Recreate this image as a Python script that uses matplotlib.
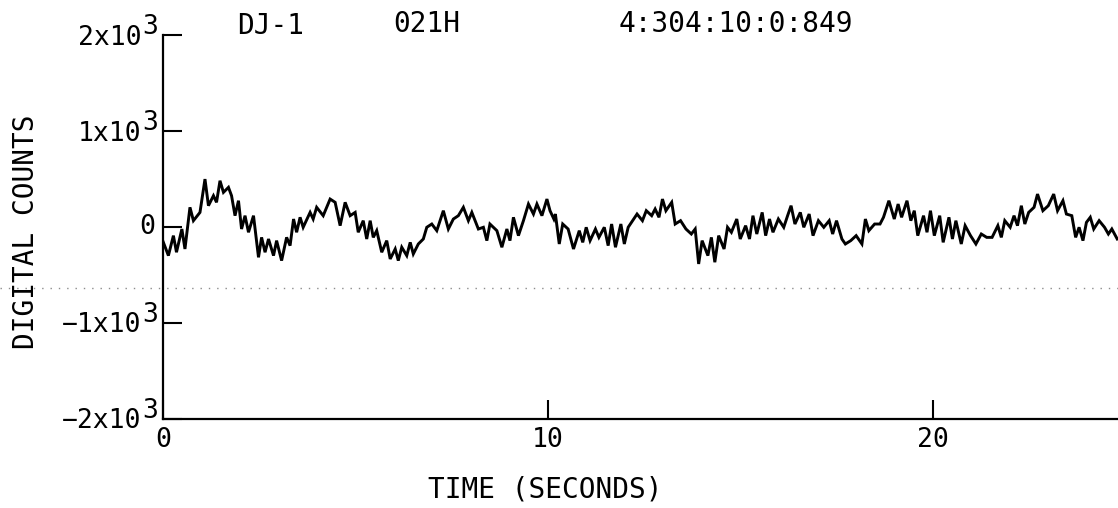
import matplotlib
matplotlib.use("Agg")
import matplotlib.pyplot as plt
from matplotlib.lines import Line2D

# Station header
station = "DJ-1"
channel = "021H"
timestamp = "4:304:10:0:849"

# Seismogram trace: time (s) and digital counts
time_s = [
    0.00, 0.14, 0.27, 0.35, 0.49, 0.57, 0.70, 0.79, 0.96, 1.09, 1.18, 1.31, 1.39, 1.48, 1.57,
    1.70, 1.78, 1.87, 1.96, 2.04, 2.13, 2.22, 2.35, 2.48, 2.56, 2.65, 2.74, 2.87, 2.95, 3.08,
    3.21, 3.30, 3.39, 3.47, 3.56, 3.64, 3.82, 3.90, 3.99, 4.16, 4.34, 4.47, 4.60, 4.73, 4.86,
    4.99, 5.07, 5.20, 5.29, 5.38, 5.46, 5.55, 5.68, 5.81, 5.90, 6.03, 6.11, 6.20, 6.33, 6.42,
    6.50, 6.63, 6.76, 6.85, 6.98, 7.11, 7.28, 7.41, 7.54, 7.67, 7.80, 7.93, 8.02, 8.19, 8.32,
    8.41, 8.49, 8.67, 8.80, 8.93, 9.01, 9.10, 9.23, 9.36, 9.49, 9.62, 9.71, 9.84, 9.97,
    10.05, 10.15, 10.19, 10.29, 10.38, 10.52, 10.66, 10.81, 10.90, 10.99, 11.09, 11.23, 11.32,
    11.46, 11.56, 11.65, 11.75, 11.89, 11.98, 12.08, 12.31, 12.45, 12.55, 12.69, 12.78, 12.88,
    12.97, 13.06, 13.21, 13.30, 13.44, 13.58, 13.72, 13.82, 13.91, 14.00, 14.15, 14.24, 14.33,
    14.43, 14.57, 14.66, 14.76, 14.90, 14.99, 15.13, 15.23, 15.32, 15.42, 15.56, 15.65, 15.75,
    15.84, 15.98, 16.12, 16.22, 16.31, 16.41, 16.55, 16.64, 16.78, 16.88, 17.02, 17.16, 17.30,
    17.39, 17.49, 17.63, 17.72, 17.86, 18.00, 18.15, 18.24, 18.33, 18.48, 18.62, 18.71, 18.85,
    18.99, 19.09, 19.18, 19.32, 19.42, 19.51, 19.60, 19.75, 19.84, 19.93, 20.03, 20.17, 20.26,
    20.41, 20.50, 20.59, 20.73, 20.83, 20.97, 21.11, 21.25, 21.39, 21.53, 21.68, 21.77, 21.86,
    22.00, 22.10, 22.19, 22.29, 22.38, 22.48, 22.62, 22.71, 22.85, 22.99, 23.13, 23.23, 23.37,
    23.46, 23.60, 23.70, 23.79, 23.89, 23.98, 24.08, 24.17, 24.31, 24.45, 24.55, 24.64, 24.78,
]
counts = [
    -150, -298, -90, -263, -21, -229, 205, 66, 152, 499, 222, 326, 257, 482, 361,
    413, 326, 118, 274, -21, 118, -55, 118, -316, -108, -263, -125, -298, -142, -350,
    -108, -194, 83, -55, 101, -3, 152, 83, 205, 118, 291, 257, 14, 257, 118,
    152, -55, 66, -125, 66, -108, -38, -263, -142, -333, -229, -350, -211, -298, -160,
    -281, -177, -125, -3, 31, -38, 170, -21, 83, 118, 205, 66, 152, -21, -3,
    -142, 31, -38, -211, -21, -142, 101, -90, 66, 239, 135, 239, 118, 291,
    170, 83, 135, -177, 31, -21, -229, -38, -160, -3, -142, -21, -108,
    -3, -194, 31, -211, 31, -177, -3, 135, 66, 170, 118, 187, 101,
    291, 170, 257, 31, 66, -21, -73, -21, -385, -142, -298, -108, -367,
    -90, -229, -3, -55, 83, -125, 14, -125, 118, -73, 152, -90, 83,
    -55, 83, -3, 118, 222, 31, 152, -3, 135, -90, 66, -3, 66,
    -73, 66, -125, -177, -142, -90, -177, 83, -38, 31, 31, 101, 274,
    83, 239, 101, 274, 66, 170, -90, 118, -55, 170, -90, 118, -160,
    101, -125, 66, -177, 14, -90, -177, -73, -108, -108, 14, -108, 66,
    -3, 118, 14, 222, 31, 152, 205, 343, 170, 222, 343, 170, 274,
    135, 118, -108, -3, -142, 48, 101, -21, 66, -3, -73, -21, -125,
]

y_ticks = [-2000, -1000, 0, 1000, 2000]
y_tick_mantissa = ["\u22122x10", "\u22121x10", "0", "1x10", "2x10"]
y_tick_exponent = ["3", "3", "", "3", "3"]
x_ticks = [0, 10, 20]
x_tick_labels = ["0", "10", "20"]

plt.rcParams["font.family"] = ["DejaVu Sans Mono", "DejaVu Sans"]

fig = plt.figure(figsize=(11.18, 5.08), dpi=100)
ax = fig.add_axes([0.1458, 0.1752, 0.8542, 0.7559])

ax.plot(time_s, counts, color="black", lw=2.1, solid_joinstyle="miter")

ax.set_xlim(0, 24.8)
ax.set_ylim(-2000, 2000)
ax.set_xticks(x_ticks)
ax.set_xticklabels(x_tick_labels)
ax.set_yticks(y_ticks)
ax.set_yticklabels([])
ax.tick_params(direction="in", length=14, width=1.5, labelsize=19, color="black")
ax.tick_params(axis="x", pad=6)

# y tick labels drawn as mantissa with a raised, full-size exponent
label_tf = ax.get_yaxis_transform()
for val, mant, expo in zip(y_ticks, y_tick_mantissa, y_tick_exponent):
    if expo:
        ax.annotate(mant, xy=(0, val), xycoords=label_tf, xytext=(-15.6, -1.8),
                    textcoords="offset points", ha="right", va="center", fontsize=19,
                    annotation_clip=False)
        ax.annotate(expo, xy=(0, val), xycoords=label_tf, xytext=(-3.2, 6.0),
                    textcoords="offset points", ha="right", va="center", fontsize=19,
                    annotation_clip=False)
    else:
        ax.annotate(mant, xy=(0, val), xycoords=label_tf, xytext=(-6, 0),
                    textcoords="offset points", ha="right", va="center", fontsize=19,
                    annotation_clip=False)

for side in ("top", "right"):
    ax.spines[side].set_visible(False)
for side in ("left", "bottom"):
    ax.spines[side].set_linewidth(1.6)

fig.text(0.0233, 0.543, "DIGITAL COUNTS", rotation=90, ha="center", va="center", fontsize=20)
fig.text(0.488, 0.037, "TIME (SECONDS)", ha="center", va="center", fontsize=20)

# Header line above the plot
fig.text(0.2424, 0.948, station, ha="center", va="center", fontsize=20)
fig.text(0.3819, 0.952, channel, ha="center", va="center", fontsize=20)
fig.text(0.6583, 0.952, timestamp, ha="center", va="center", fontsize=20)

# Faint dotted rule running across the sheet
fig.add_artist(Line2D([0, 1], [0.433, 0.433], transform=fig.transFigure,
                      color="#8c8c8c", lw=1.0, ls=(0, (1, 5))))

fig.savefig("out.png", dpi=100, facecolor="white")
